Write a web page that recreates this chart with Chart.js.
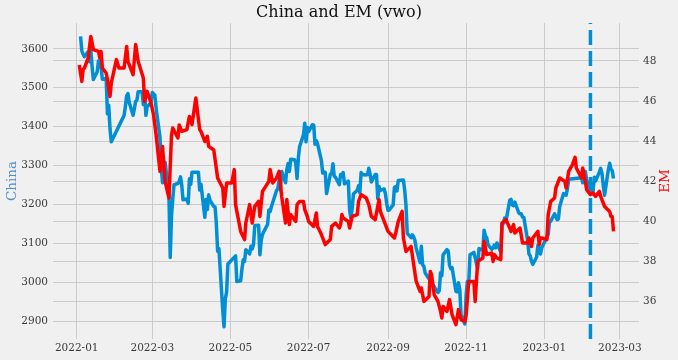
<!DOCTYPE html>
<html>
<head>
<meta charset="utf-8">
<script src="https://cdn.jsdelivr.net/npm/chart.js@4.4.1/dist/chart.umd.min.js"></script>
<style>
html,body{margin:0;padding:0;background:#f0f0f0;}
canvas{display:block;}
</style>
</head>
<body>
<canvas id="c" width="678" height="360"></canvas>
<script>
// ---------------- DATA ----------------
const titleText = 'China and EM (vwo)';
const chinaLabel = 'China';
const emLabel = 'EM';

const chinaDates = [
'2022-01-04','2022-01-05','2022-01-06','2022-01-07','2022-01-10','2022-01-11','2022-01-12','2022-01-13','2022-01-14','2022-01-17',
'2022-01-18','2022-01-19','2022-01-20','2022-01-21','2022-01-24','2022-01-25','2022-01-26','2022-01-27','2022-01-28','2022-02-07',
'2022-02-08','2022-02-09','2022-02-10','2022-02-11','2022-02-14','2022-02-15','2022-02-16','2022-02-17','2022-02-18','2022-02-21',
'2022-02-22','2022-02-23','2022-02-24','2022-02-25','2022-02-28','2022-03-01','2022-03-02','2022-03-03','2022-03-04','2022-03-07',
'2022-03-08','2022-03-09','2022-03-10','2022-03-11','2022-03-14','2022-03-15','2022-03-16','2022-03-17','2022-03-18','2022-03-21',
'2022-03-22','2022-03-23','2022-03-24','2022-03-25','2022-03-28','2022-03-29','2022-03-30','2022-03-31','2022-04-01','2022-04-06',
'2022-04-07','2022-04-08','2022-04-11','2022-04-12','2022-04-13','2022-04-14','2022-04-15','2022-04-18','2022-04-19','2022-04-20',
'2022-04-21','2022-04-22','2022-04-25','2022-04-26','2022-04-27','2022-04-28','2022-04-29','2022-05-05','2022-05-06','2022-05-09',
'2022-05-10','2022-05-11','2022-05-12','2022-05-13','2022-05-16','2022-05-17','2022-05-18','2022-05-19','2022-05-20','2022-05-23',
'2022-05-24','2022-05-25','2022-05-26','2022-05-27','2022-05-30','2022-05-31','2022-06-01','2022-06-02','2022-06-06','2022-06-07',
'2022-06-08','2022-06-09','2022-06-10','2022-06-13','2022-06-14','2022-06-15','2022-06-16','2022-06-17','2022-06-20','2022-06-21',
'2022-06-22','2022-06-23','2022-06-24','2022-06-27','2022-06-28','2022-06-29','2022-06-30','2022-07-01','2022-07-04','2022-07-05',
'2022-07-06','2022-07-07','2022-07-08','2022-07-11','2022-07-12','2022-07-13','2022-07-14','2022-07-15','2022-07-18','2022-07-19',
'2022-07-20','2022-07-21','2022-07-22','2022-07-25','2022-07-26','2022-07-27','2022-07-28','2022-07-29','2022-08-01','2022-08-02',
'2022-08-03','2022-08-04','2022-08-05','2022-08-08','2022-08-09','2022-08-10','2022-08-11','2022-08-12','2022-08-15','2022-08-16',
'2022-08-17','2022-08-18','2022-08-19','2022-08-22','2022-08-23','2022-08-24','2022-08-25','2022-08-26','2022-08-29','2022-08-30',
'2022-08-31','2022-09-01','2022-09-02','2022-09-05','2022-09-06','2022-09-07','2022-09-08','2022-09-09','2022-09-13','2022-09-14',
'2022-09-15','2022-09-16','2022-09-19','2022-09-20','2022-09-21','2022-09-22','2022-09-23','2022-09-26','2022-09-27','2022-09-28',
'2022-09-29','2022-09-30','2022-10-10','2022-10-11','2022-10-12','2022-10-13','2022-10-14','2022-10-17','2022-10-18','2022-10-19',
'2022-10-20','2022-10-21','2022-10-24','2022-10-25','2022-10-26','2022-10-27','2022-10-28','2022-10-31','2022-11-01','2022-11-02',
'2022-11-03','2022-11-04','2022-11-07','2022-11-08','2022-11-09','2022-11-10','2022-11-11','2022-11-14','2022-11-15','2022-11-16',
'2022-11-17','2022-11-18','2022-11-21','2022-11-22','2022-11-23','2022-11-24','2022-11-25','2022-11-28','2022-11-29','2022-11-30',
'2022-12-01','2022-12-02','2022-12-05','2022-12-06','2022-12-07','2022-12-08','2022-12-09','2022-12-12','2022-12-13','2022-12-14',
'2022-12-15','2022-12-16','2022-12-19','2022-12-20','2022-12-21','2022-12-22','2022-12-23','2022-12-26','2022-12-27','2022-12-28',
'2022-12-29','2022-12-30','2023-01-03','2023-01-04','2023-01-05','2023-01-06','2023-01-09','2023-01-10','2023-01-11','2023-01-12',
'2023-01-13','2023-01-16','2023-01-17','2023-01-18','2023-01-19','2023-01-20','2023-01-30','2023-01-31','2023-02-01','2023-02-02',
'2023-02-03','2023-02-06','2023-02-07','2023-02-08','2023-02-09','2023-02-10','2023-02-13','2023-02-14','2023-02-15','2023-02-16',
'2023-02-17','2023-02-20','2023-02-21','2023-02-22','2023-02-23','2023-02-24'
];
const chinaValues = [
3632,3595,3586,3580,3593,3567,3597,3555,3521,3541,
3569,3558,3555,3522,3524,3433,3455,3394,3361,3429,
3452,3479,3485,3462,3429,3446,3465,3468,3490,3490,
3457,3489,3429,3451,3462,3488,3484,3481,3447,3373,
3294,3256,3296,3309,3223,3064,3171,3216,3251,3254,
3259,3271,3250,3212,3214,3203,3266,3252,3283,3283,
3237,3252,3167,3213,3187,3225,3211,3195,3194,3151,
3080,3087,2928,2886,2958,2975,3047,3068,3002,3004,
3035,3058,3054,3084,3073,3093,3086,3097,3146,3147,
3071,3107,3123,3130,3149,3186,3182,3195,3236,3241,
3263,3238,3285,3256,3289,3305,3285,3316,3315,3306,
3267,3320,3349,3379,3409,3361,3398,3387,3405,3404,
3355,3364,3356,3313,3281,3284,3282,3228,3278,3279,
3305,3273,3270,3251,3277,3275,3282,3253,3260,3186,
3164,3189,3227,3237,3248,3230,3282,3277,3276,3277,
3293,3278,3258,3277,3277,3215,3246,3236,3240,3227,
3202,3185,3186,3199,3244,3246,3235,3262,3263,3237,
3199,3126,3115,3122,3117,3108,3088,3051,3093,3045,
3041,3024,2974,2979,3025,3017,3071,3084,3080,3044,
3035,3038,2977,2976,2999,2982,2916,2893,2969,3003,
2997,3071,3077,3064,3048,3036,3087,3083,3134,3120,
3115,3097,3085,3088,3096,3089,3101,3078,3150,3151,
3165,3156,3211,3213,3199,3197,3206,3179,3176,3176,
3168,3167,3107,3073,3068,3054,3046,3065,3095,3087,
3073,3089,3116,3123,3155,3157,3176,3169,3161,3163,
3195,3228,3225,3224,3240,3265,3269,3256,3285,3285,
3263,3238,3248,3232,3270,3260,3284,3293,3280,3249,
3224,3290,3306,3291,3287,3267
];

const emDates = [
'2022-01-03','2022-01-05','2022-01-06','2022-01-07','2022-01-10','2022-01-12','2022-01-14','2022-01-18','2022-01-19','2022-01-20',
'2022-01-21','2022-01-24','2022-01-25','2022-01-27','2022-01-28','2022-02-01','2022-02-03','2022-02-07','2022-02-09','2022-02-10',
'2022-02-14','2022-02-16','2022-02-18','2022-02-22','2022-02-23','2022-02-25','2022-02-28','2022-03-02','2022-03-04','2022-03-07',
'2022-03-09','2022-03-11','2022-03-14','2022-03-16','2022-03-17','2022-03-21','2022-03-22','2022-03-24','2022-03-28','2022-03-30',
'2022-04-01','2022-04-04','2022-04-07','2022-04-08','2022-04-11','2022-04-13','2022-04-14','2022-04-18','2022-04-21','2022-04-25',
'2022-04-26','2022-04-28','2022-05-02','2022-05-04','2022-05-05','2022-05-09','2022-05-12','2022-05-13','2022-05-16','2022-05-18',
'2022-05-20','2022-05-23','2022-05-24','2022-05-26','2022-05-31','2022-06-01','2022-06-03','2022-06-06','2022-06-08','2022-06-10',
'2022-06-13','2022-06-14','2022-06-16','2022-06-17','2022-06-21','2022-06-22','2022-06-24','2022-06-27','2022-06-28','2022-06-30',
'2022-07-01','2022-07-05','2022-07-07','2022-07-08','2022-07-11','2022-07-14','2022-07-18','2022-07-19','2022-07-22','2022-07-25',
'2022-07-26','2022-07-27','2022-07-28','2022-08-01','2022-08-02','2022-08-04','2022-08-08','2022-08-09','2022-08-11','2022-08-15',
'2022-08-17','2022-08-19','2022-08-22','2022-08-25','2022-08-26','2022-08-29','2022-09-01','2022-09-06','2022-09-07','2022-09-09',
'2022-09-12','2022-09-13','2022-09-15','2022-09-19','2022-09-21','2022-09-23','2022-09-26','2022-09-27','2022-09-29','2022-10-03',
'2022-10-04','2022-10-05','2022-10-07','2022-10-10','2022-10-12','2022-10-13','2022-10-14','2022-10-17','2022-10-19','2022-10-21',
'2022-10-24','2022-10-26','2022-10-28','2022-10-31','2022-11-01','2022-11-03','2022-11-07','2022-11-08','2022-11-10','2022-11-14',
'2022-11-15','2022-11-17','2022-11-21','2022-11-22','2022-11-23','2022-11-25','2022-11-28','2022-11-29','2022-12-02','2022-12-05',
'2022-12-06','2022-12-08','2022-12-09','2022-12-13','2022-12-15','2022-12-19','2022-12-20','2022-12-22','2022-12-23','2022-12-27',
'2022-12-28','2022-12-29','2022-12-30','2023-01-03','2023-01-04','2023-01-06','2023-01-09','2023-01-10','2023-01-13','2023-01-17',
'2023-01-18','2023-01-20','2023-01-23','2023-01-25','2023-01-26','2023-01-30','2023-01-31','2023-02-02','2023-02-03','2023-02-06',
'2023-02-08','2023-02-10','2023-02-13','2023-02-14','2023-02-17','2023-02-21','2023-02-22','2023-02-23','2023-02-24'
];
const emValues = [
47.80,46.98,47.57,47.65,48.15,49.23,48.57,48.48,48.15,48.48,
47.65,47.40,47.07,46.23,46.90,48.07,47.65,47.65,48.73,47.98,
47.32,48.82,47.98,47.15,45.98,46.48,45.90,45.30,44.30,42.48,
43.73,41.98,41.15,44.30,44.65,44.15,44.80,44.48,44.57,45.23,
44.82,46.15,44.57,44.48,43.98,44.23,43.73,43.55,42.15,41.65,
40.73,41.90,41.90,42.57,40.82,39.48,39.07,39.90,40.82,39.90,
40.73,40.98,40.23,41.48,41.98,42.57,41.90,42.15,42.48,41.23,
39.90,41.07,39.82,40.32,39.98,40.82,40.98,40.98,40.57,40.23,
39.98,39.73,40.40,39.73,39.32,38.82,39.07,39.73,39.90,39.65,
39.82,40.32,40.15,39.98,39.65,40.23,40.32,40.98,41.32,41.15,
40.82,40.23,40.07,41.07,40.48,39.98,39.48,39.15,39.40,39.98,
40.48,39.15,38.48,38.73,37.82,36.98,36.48,36.65,35.98,36.23,
37.48,37.32,36.32,35.98,35.48,35.15,35.73,35.48,36.07,35.32,
34.82,35.57,35.07,34.98,35.32,36.98,36.98,35.98,37.98,38.15,
38.98,38.32,38.40,37.98,38.32,38.15,38.07,39.90,40.07,39.65,
39.48,39.82,39.40,39.65,38.90,38.90,39.15,38.73,39.15,39.48,
38.82,39.15,39.15,39.07,40.32,40.98,41.15,41.65,42.15,41.98,
41.65,42.48,42.82,43.18,42.65,42.15,42.65,41.98,41.57,41.32,
41.40,41.23,41.48,41.23,40.73,40.48,40.23,40.23,39.48
];

const markerDate = '2023-02-06';
const xTickDates = ['2022-01-01','2022-03-01','2022-05-01','2022-07-01','2022-09-01','2022-11-01','2023-01-01','2023-03-01'];
const xTickLabels = ['2022-01','2022-03','2022-05','2022-07','2022-09','2022-11','2023-01','2023-03'];
const leftTicks = [2900,3000,3100,3200,3300,3400,3500,3600];
const rightTicks = [36,38,40,42,44,46,48];

// ---------------- HELPERS ----------------
const DAY0 = Date.UTC(2022,0,1);
function dayOf(s){ const p = s.split('-').map(Number); return (Date.UTC(p[0],p[1]-1,p[2]) - DAY0)/86400000; }

const LEFT_MIN = 2854.5, LEFT_MAX = 3666.3;
const RIGHT_MIN = 34.1, RIGHT_MAX = 49.9;
const X_MIN = -18.5, X_MAX = 438.9;

const BLUE = '#008fd5', RED = '#ff0000', GRID = '#cbcbcb';
const SERIF = "'DejaVu Serif', serif";
const TICK_COLOR = '#3a3a3a';

const chinaData = chinaDates.map((d,i)=>({x: dayOf(d), y: chinaValues[i]}));
const emData = emDates.map((d,i)=>({x: dayOf(d), y: emValues[i]}));
const mDay = dayOf(markerDate);
const markerData = [{x: mDay, y: LEFT_MIN}, {x: mDay, y: LEFT_MAX}];

const xTickMap = {};
xTickDates.forEach((d,i)=>{ xTickMap[dayOf(d)] = xTickLabels[i]; });

const bgPlugin = {
  id: 'bg',
  beforeDraw(chart){
    const ctx = chart.ctx;
    ctx.save();
    ctx.fillStyle = '#f0f0f0';
    ctx.fillRect(0,0,chart.width,chart.height);
    ctx.restore();
  }
};
const axisTitles = {
  id: 'axisTitles',
  afterDraw(chart){
    const ctx = chart.ctx, a = chart.chartArea;
    const cy = (a.top + a.bottom)/2;
    ctx.save();
    ctx.font = "13.5px " + SERIF;
    ctx.textAlign = 'center';
    ctx.textBaseline = 'middle';
    ctx.fillStyle = '#4f8fcc';
    ctx.translate(12, cy);
    ctx.rotate(-Math.PI/2);
    ctx.fillText(chinaLabel, 0, 0);
    ctx.restore();
    ctx.save();
    ctx.font = "13.5px " + SERIF;
    ctx.textAlign = 'center';
    ctx.textBaseline = 'middle';
    ctx.fillStyle = RED;
    ctx.translate(665, cy);
    ctx.rotate(-Math.PI/2);
    ctx.fillText(emLabel, 0, 0);
    ctx.restore();
  }
};

const tickFont = {family: SERIF, size: 10.5};

new Chart(document.getElementById('c'), {
  type: 'line',
  data: {
    datasets: [
      {label: 'EM', data: emData, yAxisID: 'y2', borderColor: RED, borderWidth: 3.5, pointRadius: 0, tension: 0, fill: false, borderJoinStyle: 'round', order: 0},
      {label: 'marker', data: markerData, yAxisID: 'y', borderColor: BLUE, borderWidth: 3.5, borderDash: [15,6], pointRadius: 0, fill: false, order: 1},
      {label: 'China', data: chinaData, yAxisID: 'y', borderColor: BLUE, borderWidth: 3.5, pointRadius: 0, tension: 0, fill: false, borderJoinStyle: 'round', order: 2}
    ]
  },
  options: {
    responsive: false,
    animation: false,
    events: [],
    layout: {padding: 0},
    plugins: {
      legend: {display: false},
      tooltip: {enabled: false},
      title: {display: true, text: titleText, color: '#111', font: {family: SERIF, size: 16, weight: 'normal', lineHeight: 1}, padding: {top: 5, bottom: 2}}
    },
    scales: {
      x: {
        type: 'linear', min: X_MIN, max: X_MAX,
        grid: {color: GRID, lineWidth: 1, drawTicks: false},
        border: {display: false},
        ticks: {font: tickFont, color: TICK_COLOR, padding: 3, maxRotation: 0, autoSkip: false,
          callback: v => (xTickMap[v] !== undefined ? xTickMap[v] : '')},
        afterBuildTicks: s => { s.ticks = xTickDates.map(d => ({value: dayOf(d)})); },
        afterFit: s => { s.height = 21; }
      },
      y: {
        type: 'linear', position: 'left', min: LEFT_MIN, max: LEFT_MAX,
        grid: {color: GRID, lineWidth: 1, drawTicks: false},
        border: {display: false},
        ticks: {font: tickFont, color: TICK_COLOR, padding: 5, callback: v => String(v)},
        afterBuildTicks: s => { s.ticks = leftTicks.map(v => ({value: v})); },
        afterFit: s => { s.width = 53; }
      },
      y2: {
        type: 'linear', position: 'right', min: RIGHT_MIN, max: RIGHT_MAX,
        grid: {color: GRID, lineWidth: 1, drawTicks: false},
        border: {display: false},
        ticks: {font: tickFont, color: TICK_COLOR, padding: 4, callback: v => String(v)},
        afterBuildTicks: s => { s.ticks = rightTicks.map(v => ({value: v})); },
        afterFit: s => { s.width = 39; }
      }
    }
  },
  plugins: [bgPlugin, axisTitles]
});
</script>
</body>
</html>
